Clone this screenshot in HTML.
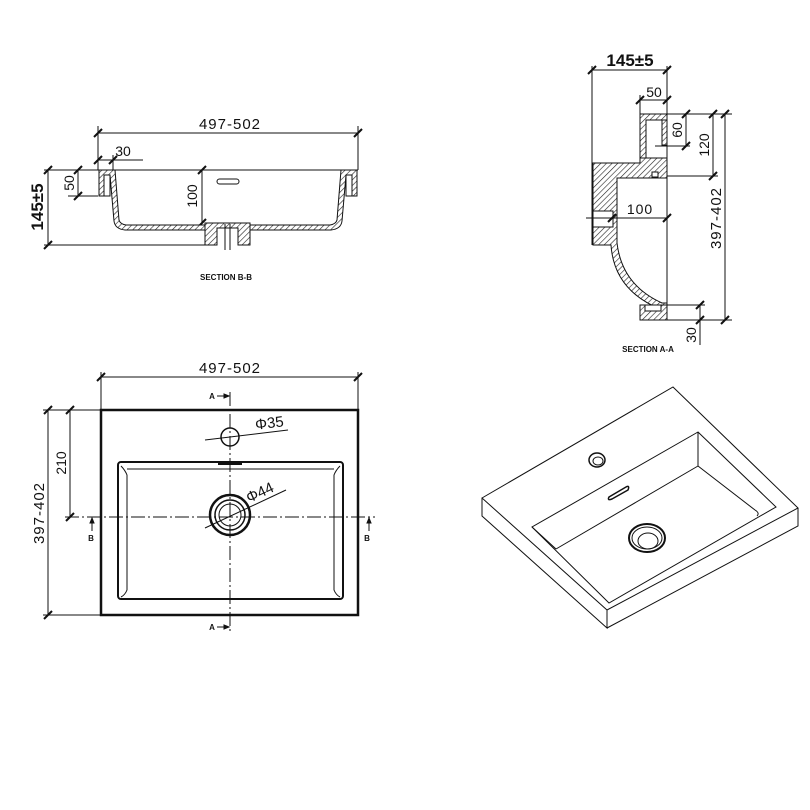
<!DOCTYPE html>
<html><head><meta charset="utf-8"><style>
html,body{margin:0;padding:0;background:#fff;}
svg{display:block;}
text{font-family:"Liberation Sans",sans-serif;fill:#111;}
</style></head><body>
<svg width="810" height="810" viewBox="0 0 810 810" xmlns="http://www.w3.org/2000/svg">
<defs>
<pattern id="h" width="4" height="4" patternUnits="userSpaceOnUse" patternTransform="rotate(45)">
<rect width="4" height="4" fill="#fff"/><line x1="0" y1="0" x2="0" y2="4" stroke="#222" stroke-width="1.2"/>
</pattern>
</defs>
<g stroke="#111" fill="none" stroke-width="1">

<!-- ============ SECTION B-B ============ -->
<!-- dims -->
<line x1="98" y1="133" x2="358" y2="133"/>
<line x1="98" y1="126" x2="98" y2="170"/><line x1="358" y1="126" x2="358" y2="170"/>
<line x1="94" y1="137" x2="102" y2="129" stroke-width="2"/><line x1="354" y1="137" x2="362" y2="129" stroke-width="2"/>
<line x1="98" y1="160" x2="143" y2="160"/>
<line x1="113" y1="155" x2="113" y2="170"/>
<line x1="94" y1="164" x2="102" y2="156" stroke-width="2"/><line x1="109" y1="164" x2="117" y2="156" stroke-width="2"/>
<line x1="78" y1="170" x2="78" y2="196"/>
<line x1="68" y1="170" x2="98" y2="170"/><line x1="68" y1="196" x2="98" y2="196"/>
<line x1="74" y1="174" x2="82" y2="166" stroke-width="2"/><line x1="74" y1="200" x2="82" y2="192" stroke-width="2"/>
<line x1="48" y1="170" x2="48" y2="245"/>
<line x1="44" y1="170" x2="98" y2="170"/><line x1="44" y1="245" x2="205" y2="245"/>
<line x1="44" y1="174" x2="52" y2="166" stroke-width="2"/><line x1="44" y1="249" x2="52" y2="241" stroke-width="2"/>
<line x1="202" y1="170" x2="202" y2="223"/>
<line x1="198" y1="174" x2="206" y2="166" stroke-width="2"/><line x1="198" y1="227" x2="206" y2="219" stroke-width="2"/>
<line x1="98" y1="170" x2="358" y2="170"/>
<!-- left rim -->
<path d="M99 170 H115 L119 220 Q120 224 126 225 H205 V230 H125 Q115 229 114 221 L110 175 V196 H99 Z" fill="url(#h)"/>
<rect x="104" y="175" width="6" height="21" fill="#fff"/>
<path d="M104 196 V175 H110" />
<!-- right rim -->
<path d="M357 170 H341 L337 220 Q336 224 330 225 H250 V230 H331 Q341 229 342 221 L346 175 V196 H357 Z" fill="url(#h)"/>
<rect x="346" y="175" width="6" height="21" fill="#fff"/>
<path d="M352 196 V175 H346"/>
<!-- drain -->
<path d="M205 223 H250 V245 H238 V228 H217 V245 H205 Z" fill="url(#h)"/>
<line x1="225" y1="224" x2="225" y2="250"/><line x1="230" y1="224" x2="230" y2="250"/>
<rect x="217" y="179" width="22" height="5" rx="2.5"/>

<!-- ============ SECTION A-A ============ -->
<line x1="592" y1="70" x2="667" y2="70"/>
<line x1="592" y1="66" x2="592" y2="245"/><line x1="667" y1="66" x2="667" y2="320"/>
<line x1="588" y1="74" x2="596" y2="66" stroke-width="2"/><line x1="663" y1="74" x2="671" y2="66" stroke-width="2"/>
<line x1="640" y1="100" x2="667" y2="100"/><line x1="640" y1="95" x2="640" y2="114"/>
<line x1="636" y1="104" x2="644" y2="96" stroke-width="2"/><line x1="663" y1="104" x2="671" y2="96" stroke-width="2"/>
<!-- right side dims -->
<line x1="667" y1="114" x2="732" y2="114"/><line x1="667" y1="176" x2="718" y2="176"/>
<line x1="667" y1="305" x2="705" y2="305"/><line x1="667" y1="320" x2="732" y2="320"/>
<line x1="655" y1="146" x2="690" y2="146"/>
<line x1="686" y1="114" x2="686" y2="146"/><line x1="713" y1="114" x2="713" y2="176"/>
<line x1="725" y1="114" x2="725" y2="320"/><line x1="700" y1="305" x2="700" y2="345"/>
<line x1="682" y1="118" x2="690" y2="110" stroke-width="2"/><line x1="682" y1="150" x2="690" y2="142" stroke-width="2"/>
<line x1="709" y1="118" x2="717" y2="110" stroke-width="2"/><line x1="709" y1="180" x2="717" y2="172" stroke-width="2"/>
<line x1="721" y1="118" x2="729" y2="110" stroke-width="2"/><line x1="721" y1="324" x2="729" y2="316" stroke-width="2"/>
<line x1="696" y1="309" x2="704" y2="301" stroke-width="2"/><line x1="696" y1="324" x2="704" y2="316" stroke-width="2"/>
<!-- profile -->
<path d="M640 114 H667 V120 H646 V158 H640 Z" fill="url(#h)"/>
<rect x="662" y="120" width="5" height="25" fill="url(#h)"/>
<path d="M593 163 H640 V158 H667 V178 H617 V243 Q622 285 662 303 H667 V309 H660 Q614 290 611 245 H593 Z" fill="url(#h)"/>
<rect x="593" y="211" width="20" height="16" fill="#fff"/>
<path d="M593 211 H613 V227 H593"/>
<rect x="652" y="172" width="6" height="5" fill="#fff"/>
<path d="M640 305 H667 V320 H640 Z" fill="url(#h)"/>
<rect x="645" y="305" width="16" height="6" fill="#fff"/>
<line x1="612" y1="218" x2="667" y2="218"/><line x1="586" y1="218" x2="612" y2="218"/>
<line x1="608" y1="222" x2="616" y2="214" stroke-width="2"/><line x1="663" y1="222" x2="671" y2="214" stroke-width="2"/>

<!-- ============ PLAN ============ -->
<line x1="101" y1="377" x2="358" y2="377"/>
<line x1="101" y1="372" x2="101" y2="410"/><line x1="358" y1="372" x2="358" y2="410"/>
<line x1="97" y1="381" x2="105" y2="373" stroke-width="2"/><line x1="354" y1="381" x2="362" y2="373" stroke-width="2"/>
<line x1="43" y1="410" x2="101" y2="410"/><line x1="43" y1="615" x2="101" y2="615"/>
<line x1="48" y1="410" x2="48" y2="615"/><line x1="70" y1="410" x2="70" y2="517"/>
<line x1="44" y1="414" x2="52" y2="406" stroke-width="2"/><line x1="44" y1="619" x2="52" y2="611" stroke-width="2"/>
<line x1="66" y1="414" x2="74" y2="406" stroke-width="2"/><line x1="66" y1="521" x2="74" y2="513" stroke-width="2"/>
<rect x="101" y="410" width="257" height="205" stroke-width="2.5"/>
<rect x="118" y="462" width="225" height="137" rx="3" stroke-width="2"/>
<path d="M121 466 Q125 470 127 475 L127 590 Q125 595 121 597"/>
<path d="M340 466 Q336 470 334 475 L334 590 Q336 595 340 597"/>
<line x1="127" y1="469" x2="334" y2="469"/>
<line x1="218" y1="464" x2="242" y2="464" stroke-width="2"/>
<!-- centerlines -->
<line x1="230" y1="392" x2="230" y2="632" stroke-dasharray="14 3 2 3"/>
<line x1="65" y1="517" x2="375" y2="517" stroke-dasharray="14 3 2 3"/>
<!-- A/B arrows -->
<line x1="217" y1="396" x2="228" y2="396"/><path d="M229 396 l-5 -2 v4 z" fill="#111"/>
<line x1="217" y1="627" x2="228" y2="627"/><path d="M229 627 l-5 -2 v4 z" fill="#111"/>
<line x1="92" y1="531" x2="92" y2="519"/><path d="M92 518 l-2 5 h4 z" fill="#111"/>
<line x1="369" y1="531" x2="369" y2="519"/><path d="M369 518 l-2 5 h4 z" fill="#111"/>
<!-- holes -->
<circle cx="230" cy="437" r="9" stroke-width="1.5"/>
<line x1="205" y1="440" x2="288" y2="430"/>
<circle cx="230" cy="515" r="20" stroke-width="2.5"/>
<circle cx="230" cy="515" r="15" stroke-width="1.5"/>
<circle cx="230" cy="515" r="11"/>
<line x1="205" y1="528" x2="286" y2="490"/>

<!-- ============ ISOMETRIC ============ -->
<path d="M482 498 L673 387 L798 508 L607 610 Z"/>
<path d="M482 498 V516 L607 628 V610"/>
<path d="M607 628 L798 526 V508"/>
<path d="M698 432 L532 527 L609 603 L776 507 Z"/>
<line x1="698" y1="432" x2="698" y2="466"/>
<line x1="698" y1="466" x2="556" y2="549"/>
<line x1="532" y1="527" x2="556" y2="549"/>
<path d="M698 466 L755 510 Q760 513 757 516"/>
<ellipse cx="597" cy="460" rx="8" ry="7" stroke-width="1.5"/>
<ellipse cx="598" cy="461" rx="5" ry="4"/>
<path d="M609 497 L626 487 Q630 485 628 490 L612 499 Q607 501 609 497 Z" stroke-width="1.5"/>
<ellipse cx="647" cy="538" rx="18" ry="14" stroke-width="2"/>
<ellipse cx="647" cy="538" rx="15" ry="11"/>
<ellipse cx="648" cy="541" rx="10" ry="8"/>
</g>

<!-- TEXTS -->
<g font-size="14">
<text x="230" y="129" text-anchor="middle" font-size="15" letter-spacing="1">497-502</text>
<text x="123" y="156" text-anchor="middle">30</text>
<text transform="translate(74,183) rotate(-90)" text-anchor="middle">50</text>
<text transform="translate(43,207) rotate(-90)" text-anchor="middle" font-size="17" font-weight="bold">145±5</text>
<text transform="translate(197,196) rotate(-90)" text-anchor="middle">100</text>
<text x="226" y="280" text-anchor="middle" font-size="8" font-weight="bold">SECTION B-B</text>

<text x="630" y="66" text-anchor="middle" font-size="17" font-weight="bold">145±5</text>
<text x="654" y="97" text-anchor="middle">50</text>
<text transform="translate(682,130) rotate(-90)" text-anchor="middle">60</text>
<text transform="translate(709,145) rotate(-90)" text-anchor="middle">120</text>
<text transform="translate(721,218) rotate(-90)" text-anchor="middle" font-size="15" letter-spacing="1">397-402</text>
<text transform="translate(696,335) rotate(-90)" text-anchor="middle">30</text>
<text x="640" y="214" text-anchor="middle" letter-spacing="1">100</text>
<text x="648" y="352" text-anchor="middle" font-size="8" font-weight="bold">SECTION A-A</text>

<text x="230" y="373" text-anchor="middle" font-size="15" letter-spacing="1">497-502</text>
<text transform="translate(44,513) rotate(-90)" text-anchor="middle" font-size="15" letter-spacing="1">397-402</text>
<text transform="translate(66,463) rotate(-90)" text-anchor="middle">210</text>
<text x="212" y="399" text-anchor="middle" font-size="8" font-weight="bold">A</text>
<text x="212" y="630" text-anchor="middle" font-size="8" font-weight="bold">A</text>
<text x="91" y="541" text-anchor="middle" font-size="8" font-weight="bold">B</text>
<text x="367" y="541" text-anchor="middle" font-size="8" font-weight="bold">B</text>
<text transform="translate(270,428) rotate(-7)" text-anchor="middle" font-size="15">Φ35</text>
<text transform="translate(262,497) rotate(-25)" text-anchor="middle" font-size="15">Φ44</text>
</g>
</svg>
</body></html>
